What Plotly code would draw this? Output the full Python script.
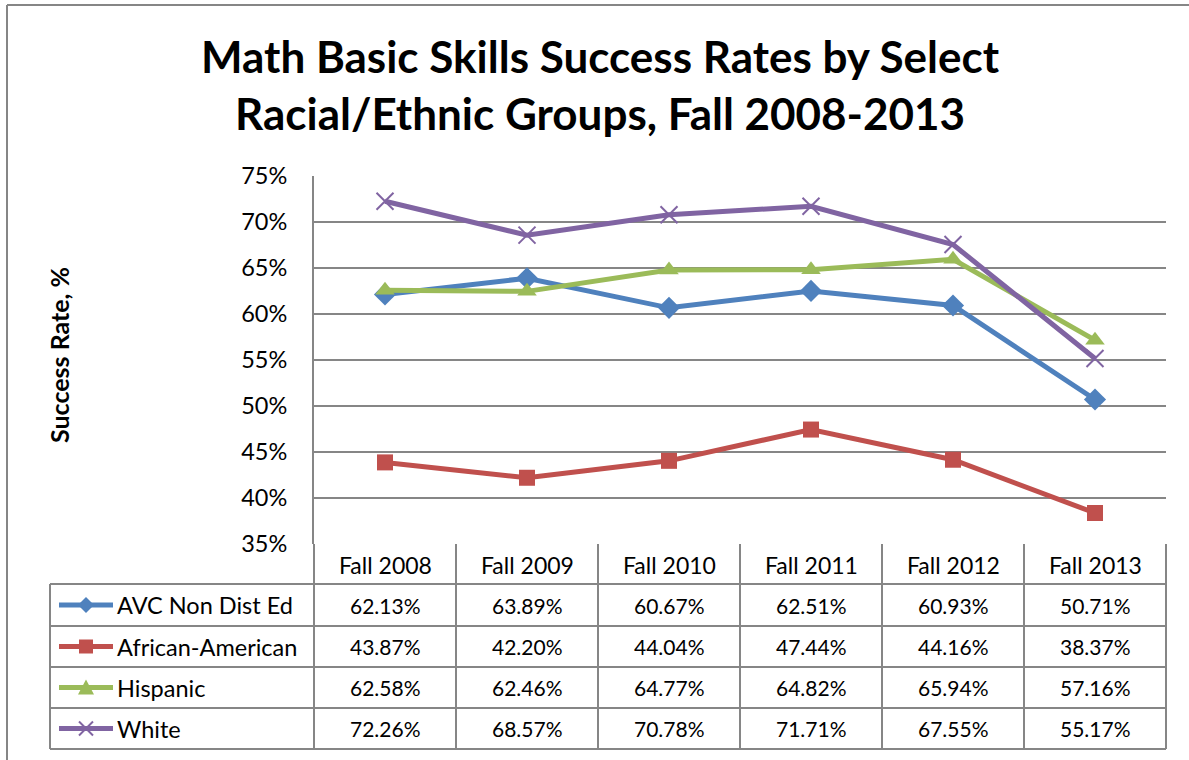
import plotly.graph_objects as go

categories = ["Fall 2008", "Fall 2009", "Fall 2010", "Fall 2011", "Fall 2012", "Fall 2013"]
series_names = ["AVC Non Dist Ed", "African-American", "Hispanic", "White"]
avc = [62.13, 63.89, 60.67, 62.51, 60.93, 50.71]
african_american = [43.87, 42.20, 44.04, 47.44, 44.16, 38.37]
hispanic = [62.58, 62.46, 64.77, 64.82, 65.94, 57.16]
white = [72.26, 68.57, 70.78, 71.71, 67.55, 55.17]
series_values = [avc, african_american, hispanic, white]
y_ticks = [0.35, 0.40, 0.45, 0.50, 0.55, 0.60, 0.65, 0.70, 0.75]

colors = ["#4F81BD", "#C0504D", "#9BBB59", "#8064A2"]
symbols = ["diamond", "square", "triangle-up", "x-thin"]
sizes = [17, 16, 17, 17]

FONT = "Lato"
GRID = "#868686"
W, H = 1189, 760
L, R, T, B = 314, 1166, 176, 544  # plot area in window pixels

def px(x):
    return (x - L) / (R - L)

def py(y):
    return (B - y) / (B - T)

fig = go.Figure()
for name, vals, c, s, sz in zip(series_names, series_values, colors, symbols, sizes):
    if s == "x-thin":
        marker = dict(symbol=s, size=sz, color=c, line=dict(color=c, width=2))
    else:
        marker = dict(symbol=s, size=sz, color=c, line=dict(color=c, width=0))
    fig.add_trace(go.Scatter(
        x=categories, y=[v / 100 for v in vals], name=name, mode="lines+markers",
        line=dict(color=c, width=5), marker=marker, cliponaxis=False,
    ))

shapes = []
def line(x0, y0, x1, y1, color=GRID, width=2):
    shapes.append(dict(type="line", xref="paper", yref="paper",
                       x0=px(x0), y0=py(y0), x1=px(x1), y1=py(y1),
                       line=dict(color=color, width=width), layer="above"))

# outer chart border (left and top visible)
line(7, 5, 7, 770)
line(7, 5, 1189, 5)

# data table grid
col_edges = [L + i * (R - L) / len(categories) for i in range(len(categories) + 1)]
row_edges = [544, 584, 626, 667, 708, 749]
for xe in col_edges:
    line(xe, 544, xe, 749)
line(50, 584, 50, 749)
for ye in row_edges[1:]:
    line(50, ye, R, ye)

annotations = []
# header
for i, cat in enumerate(categories):
    annotations.append(dict(x=i, y=py(565), xref="x", yref="paper", text=cat,
                            showarrow=False, font=dict(family=FONT, size=23, color="#000"),
                            xanchor="center", yanchor="middle"))
# rows
for r, (name, vals, c, s) in enumerate(zip(series_names, series_values, colors, symbols)):
    yc = (row_edges[r + 1] + row_edges[r + 2]) / 2
    for i, v in enumerate(vals):
        annotations.append(dict(x=i, y=py(yc), xref="x", yref="paper", text=f"{v:.2f}%",
                                showarrow=False, font=dict(family=FONT, size=21, color="#000"),
                                xanchor="center", yanchor="middle"))
    annotations.append(dict(x=px(115), y=py(yc), xref="paper", yref="paper", text=name,
                            showarrow=False, font=dict(family=FONT, size=23.5, color="#000"),
                            xanchor="left", yanchor="middle"))
    # legend key line
    line(59, yc, 113, yc, color=c, width=5)
    cx = 86
    if s == "diamond":
        d = 8
        path = f"M {px(cx-d)} {py(yc)} L {px(cx)} {py(yc-d)} L {px(cx+d)} {py(yc)} L {px(cx)} {py(yc+d)} Z"
        shapes.append(dict(type="path", xref="paper", yref="paper", path=path,
                           fillcolor=c, line=dict(color=c, width=0), layer="above"))
    elif s == "square":
        d = 7
        shapes.append(dict(type="rect", xref="paper", yref="paper",
                           x0=px(cx-d), y0=py(yc-d), x1=px(cx+d), y1=py(yc+d),
                           fillcolor=c, line=dict(color=c, width=0), layer="above"))
    elif s == "triangle-up":
        d = 8
        path = f"M {px(cx-d)} {py(yc+d-1)} L {px(cx)} {py(yc-d)} L {px(cx+d)} {py(yc+d-1)} Z"
        shapes.append(dict(type="path", xref="paper", yref="paper", path=path,
                           fillcolor=c, line=dict(color=c, width=0), layer="above"))
    else:
        d = 7
        line(cx-d, yc-d, cx+d, yc+d, color=c, width=2)
        line(cx-d, yc+d, cx+d, yc-d, color=c, width=2)

annotations.append(dict(x=px(59), y=py(355), xref="paper", yref="paper",
                        text="<b>Success Rate, %</b>", textangle=-90, showarrow=False,
                        font=dict(family=FONT, size=25, color="#000"),
                        xanchor="center", yanchor="middle"))

annotations.append(dict(x=px(600), y=py(84), xref="paper", yref="paper",
                        text="<b>Math Basic Skills Success Rates by Select<br>Racial/Ethnic Groups, Fall 2008-2013</b>",
                        showarrow=False, align="center",
                        font=dict(family=FONT, size=44, color="#000"),
                        xanchor="center", yanchor="middle"))

fig.update_layout(
    width=W, height=H,
    margin=dict(l=L, r=W - R, t=T, b=H - B),
    paper_bgcolor="white", plot_bgcolor="white",
    showlegend=False,
    xaxis=dict(type="category", range=[-0.5, len(categories) - 0.5], showticklabels=False,
               showgrid=False, zeroline=False, showline=False, ticks=""),
    yaxis=dict(range=[0.35, 0.75], tickvals=y_ticks, tickformat=".0%",
               showgrid=True, gridcolor=GRID, gridwidth=2, zeroline=False,
               showline=True, linecolor=GRID, linewidth=2,
               ticks="", ticklabelstandoff=20,
               tickfont=dict(family=FONT, size=23.5, color="#000")),
    shapes=shapes, annotations=annotations,
    font=dict(family=FONT),
)

fig.write_html("out.html", config={"displayModeBar": False},
               post_script="document.body.style.margin='0';document.body.style.overflow='hidden';")
